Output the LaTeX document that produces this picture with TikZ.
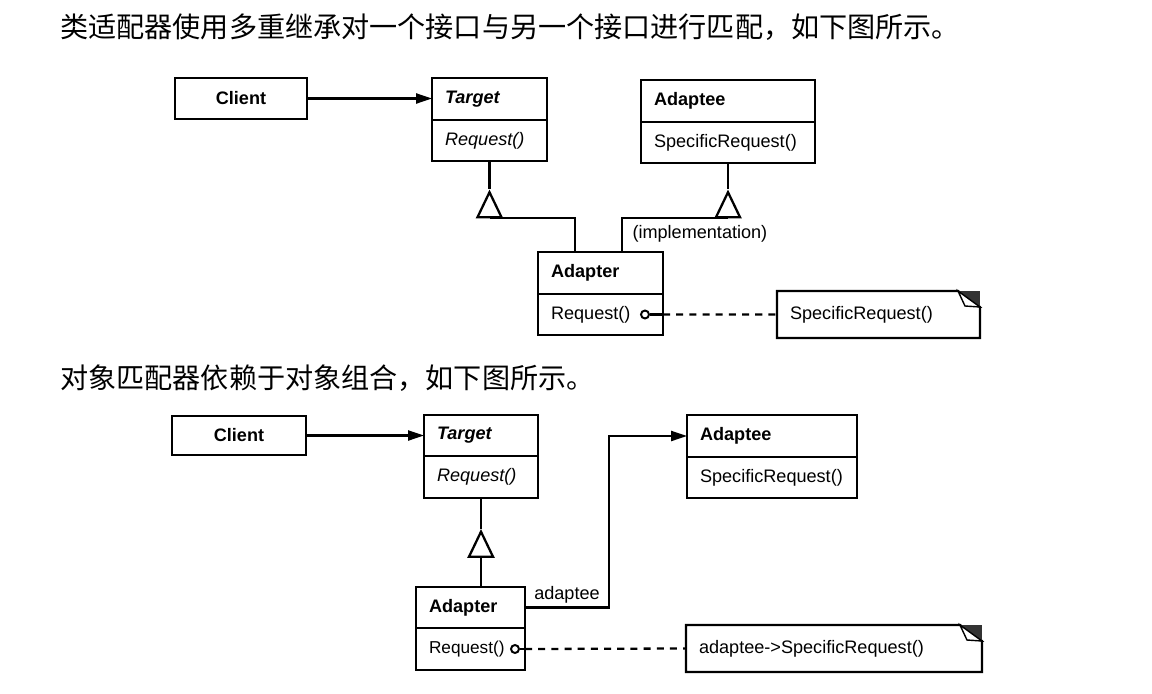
\documentclass[tikz,border=0pt]{standalone}
\usepackage{fontspec}
\setmainfont{Liberation Sans}
\newfontfamily\cjk{Noto Sans CJK SC}
\usetikzlibrary{arrows.meta,positioning,shapes.geometric}
\newcommand{\clsfont}{\fontsize{10.3}{12}\selectfont}
\tikzset{
  umlline/.style={line width=1.3pt},
  cls/.style={draw, umlline, inner xsep=0.26cm, inner ysep=0pt, outer sep=0pt,
    minimum height=0.83cm, text width=#1, align=left, font=\clsfont},
  clsname/.style={cls=#1, font=\clsfont\bfseries},
  notebox/.style={inner xsep=0.26cm, inner ysep=0pt, outer sep=0pt,
    minimum height=0.94cm, text width=#1, align=left, font=\clsfont},
  cjktext/.style={anchor=west, inner sep=0pt, font=\cjk\fontsize{16}{18}\selectfont},
  inhtri/.style={draw, umlline, fill=white, isosceles triangle, isosceles triangle stretches,
    shape border rotate=90, minimum width=0.48cm, minimum height=0.5cm, inner sep=0pt},
  assoc/.style={umlline, -{Triangle[length=0.32cm, width=0.2cm]}},
  dotcirc/.style={circle, draw, line width=1.1pt, fill=white, inner sep=0pt, minimum size=0.16cm},
  impl/.style={dash pattern=on 4pt off 3.5pt, umlline}
}
\begin{document}
\begin{tikzpicture}[x=0.02cm, y=-0.02cm]
  \useasboundingbox (0,0) rectangle (1152,693);

  % class adapter
  \node[cjktext] (title1) at (60,27) {类适配器使用多重继承对一个接口与另一个接口进行匹配，如下图所示。};
  \node[clsname=2.12cm, align=center, minimum height=0.82cm] (client) at (241,98.5) {Client};
  \node[clsname=1.78cm, font=\clsfont\bfseries\itshape] (target) at (489.5,99) {Target};
  \node[cls=1.78cm, font=\clsfont\itshape, below=0pt of target] (targetm) {Request()};
  \node[clsname=2.96cm] (adaptee) at (728,101) {Adaptee};
  \node[cls=2.96cm, below=0pt of adaptee] (adapteem) {SpecificRequest()};
  \node[clsname=1.98cm] (adapter) at (600.5,273) {Adapter};
  \node[cls=1.98cm, below=0pt of adapter] (adapterm) {Request()};
  \node[notebox=3.54cm] (note1) at (878.5,314.5) {SpecificRequest()};

  \draw[assoc] (client) -- (client -| target.west);
  \node[inhtri, anchor=apex] (tri1) at ([yshift=-0.56cm]targetm.south) {};
  \node[inhtri, anchor=apex] (tri3) at ([yshift=-0.52cm]adapteem.south) {};
  \draw[umlline] (targetm.south) -- (tri1.apex);
  \draw[umlline] (adapteem.south) -- (tri3.apex);
  \draw[umlline] (tri1.lower side) -| ([xshift=-0.51cm]adapter.north);
  \draw[umlline] (tri3.lower side) -| node[anchor=north west, xshift=2pt, font=\clsfont] {(implementation)}
    ([xshift=0.43cm]adapter.north);
  \node[dotcirc] (c1) at ([xshift=-0.36cm]adapterm.east) {};
  \draw[umlline] (c1) -- (adapterm.east);
  \draw[impl] (adapterm.east) -- (note1.west);

  % object adapter
  \node[cjktext] (title2) at (60,378) {对象匹配器依赖于对象组合，如下图所示。};
  \node[clsname=2.16cm, align=center, minimum height=0.78cm] (client2) at (239,435.5) {Client};
  \node[clsname=1.76cm, font=\clsfont\bfseries\itshape] (target2) at (481,435.5) {Target};
  \node[cls=1.76cm, font=\clsfont\itshape, below=0pt of target2] (target2m) {Request()};
  \node[clsname=2.88cm] (adaptee2) at (772,436) {Adaptee};
  \node[cls=2.88cm, below=0pt of adaptee2] (adaptee2m) {SpecificRequest()};
  \node[clsname=1.66cm] (adapter2) at (470.5,607.5) {Adapter};
  \node[cls=1.66cm, font=\fontsize{9.8}{12}\selectfont, below=0pt of adapter2] (adapter2m) {Request()};
  \node[notebox=5.4cm] (note2) at (834,648.5) {adaptee->SpecificRequest()};

  \draw[assoc] (client2) -- (client2 -| target2.west);
  \node[inhtri, anchor=apex] (tri2) at ([yshift=-0.62cm]target2m.south) {};
  \draw[umlline] (target2m.south) -- (tri2.apex);
  \draw[umlline] (tri2.lower side) -- (tri2.lower side |- adapter2.north);
  \draw[assoc] (adapter2.east) -- node[above, font=\clsfont, inner sep=2pt] {adaptee} ++(1.68cm,0)
    |- (adaptee2.west);
  \node[dotcirc] (c2) at ([xshift=-0.2cm]adapter2m.east) {};
  \draw[umlline] (c2) -- (adapter2m.east);
  \draw[impl] (adapter2m.east) -- (note2.west);

  % note outlines with folded corner
  \foreach \n in {note1,note2} {
    \draw[umlline] (\n.north west) -- ([xshift=-0.44cm]\n.north east)
      -- ([yshift=-0.32cm]\n.north east) -- (\n.south east) -- (\n.south west) -- cycle;
    \fill[black!80] ([xshift=-0.44cm]\n.north east) -- (\n.north east)
      -- ([yshift=-0.32cm]\n.north east) -- cycle;
    \draw[line width=0.8pt, fill=white] ([xshift=-0.44cm]\n.north east)
      -- ([xshift=-0.3cm, yshift=-0.3cm]\n.north east) -- ([yshift=-0.32cm]\n.north east) -- cycle;
  }
\end{tikzpicture}
\end{document}
